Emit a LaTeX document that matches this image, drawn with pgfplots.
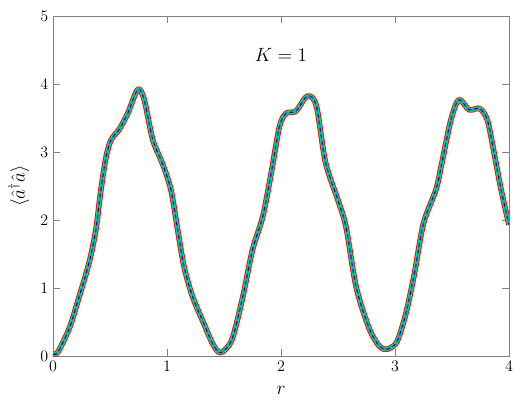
\documentclass[border=0pt]{standalone}
\usepackage{pgfplots}
\pgfplotsset{compat=1.18}

\pgfplotstableread{
x y
0.000 0.03
0.044 0.06
0.146 0.42
0.220 0.82
0.290 1.21
0.335 1.50
0.380 1.90
0.420 2.44
0.466 2.93
0.510 3.18
0.580 3.33
0.656 3.57
0.744 3.92
0.800 3.77
0.875 3.18
0.960 2.83
1.035 2.44
1.094 1.85
1.150 1.31
1.225 0.87
1.330 0.45
1.400 0.18
1.460 0.05
1.520 0.11
1.578 0.28
1.665 0.87
1.750 1.56
1.840 2.05
1.914 2.69
1.986 3.37
2.045 3.57
2.130 3.60
2.230 3.82
2.310 3.68
2.390 2.85
2.500 2.29
2.570 1.90
2.660 1.01
2.770 0.42
2.850 0.17
2.905 0.10
2.960 0.12
3.020 0.22
3.095 0.62
3.170 1.21
3.250 1.95
3.360 2.45
3.410 2.83
3.490 3.47
3.560 3.77
3.650 3.62
3.740 3.64
3.810 3.47
3.870 2.98
3.930 2.45
4.000 1.93
}\occupation

\begin{document}
\begin{tikzpicture}
\begin{axis}[
    name=ax,
    scale only axis,
    width=342pt,
    height=255pt,
    xmin=0, xmax=4,
    ymin=0, ymax=5,
    xtick={0,1,2,3,4},
    ytick={0,1,2,3,4,5},
    tick align=inside,
    major tick length=5pt,
    axis line style={gray},
    tick style={gray},
    tick label style={font=\large},
    xlabel={$r$},
    ylabel={$\langle\hat{a}^\dagger\hat{a}\rangle$},
    every axis x label/.style={at={(axis description cs:0.5,-0.1)}, anchor=center, font=\Large},
    every axis y label/.style={at={(axis description cs:-0.075,0.5)}, rotate=90, anchor=center, font=\Large},
    line join=round,
]
\addplot[red, line width=4.2pt, smooth] table {\occupation};
\addplot[green, line width=2.8pt, smooth] table {\occupation};
\addplot[cyan, line width=1.7pt, smooth] table {\occupation};
\addplot[blue, line width=0.8pt, smooth, dash pattern=on 3pt off 2.2pt] table {\occupation};
\node[font=\Large] at (axis cs:2.0,4.43) {$K=1$};
\end{axis}
\pgfresetboundingbox
\path (ax.south west) ++(-39.75pt,-41.25pt) rectangle ([xshift=10.5pt,yshift=12pt]ax.north east);
\end{tikzpicture}
\end{document}
